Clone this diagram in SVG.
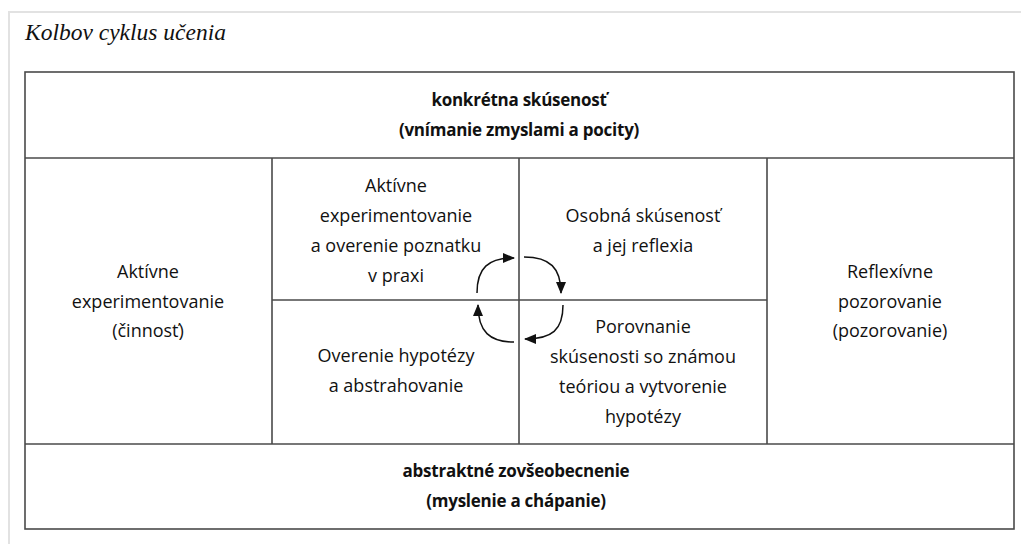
<svg xmlns="http://www.w3.org/2000/svg" width="1021" height="544" viewBox="0 0 1021 544">
<style>
.t{font-family:"Open Sans","Liberation Sans",sans-serif;font-size:18px;fill:#111;text-anchor:middle}
.b{font-weight:bold;font-size:17px;letter-spacing:-0.25px}
.ln{stroke:#4a4a4a;stroke-width:1.6;fill:none}
.ar{stroke:#111;stroke-width:1.5;fill:none;marker-end:url(#ah)}
</style>
<defs>
<marker id="ah" viewBox="0 0 12 10" refX="11" refY="5" markerWidth="12" markerHeight="10" markerUnits="userSpaceOnUse" orient="auto">
<path d="M0,0 L12,5 L0,10 Z" fill="#111"/>
</marker>
</defs>
<rect width="1021" height="544" fill="#fff"/>
<path d="M9,560 L9,12 L1030,12" fill="none" stroke="#e2e2e2" stroke-width="2"/>
<text x="25" y="40" font-family="Liberation Serif,serif" font-style="italic" font-size="23.5" fill="#111">Kolbov cyklus učenia</text>
<g id="table">
<rect x="25" y="72" width="989" height="457" class="ln"/>
<line x1="25" y1="158" x2="1014" y2="158" class="ln"/>
<line x1="25" y1="444" x2="1014" y2="444" class="ln"/>
<line x1="272" y1="158" x2="272" y2="444" class="ln"/>
<line x1="519" y1="158" x2="519" y2="444" class="ln"/>
<line x1="767" y1="158" x2="767" y2="444" class="ln"/>
<line x1="272" y1="300" x2="767" y2="300" class="ln"/>
</g>
<g id="top">
<text class="t b" x="519" y="106">konkrétna skúsenosť</text>
<text class="t b" x="519" y="136">(vnímanie zmyslami a pocity)</text>
</g>
<g id="left">
<text class="t" x="148" y="278">Aktívne</text>
<text class="t" x="148" y="308">experimentovanie</text>
<text class="t" x="148" y="337">(činnosť)</text>
</g>
<g id="right">
<text class="t" x="890" y="278">Reflexívne</text>
<text class="t" x="890" y="308">pozorovanie</text>
<text class="t" x="890" y="337">(pozorovanie)</text>
</g>
<g id="tl">
<text class="t" x="396" y="192">Aktívne</text>
<text class="t" x="396" y="222">experimentovanie</text>
<text class="t" x="396" y="252">a overenie poznatku</text>
<text class="t" x="396" y="282">v praxi</text>
</g>
<g id="tr">
<text class="t" x="643" y="222">Osobná skúsenosť</text>
<text class="t" x="643" y="252">a jej reflexia</text>
</g>
<g id="bl">
<text class="t" x="396" y="362">Overenie hypotézy</text>
<text class="t" x="396" y="392">a abstrahovanie</text>
</g>
<g id="br">
<text class="t" x="643" y="333">Porovnanie</text>
<text class="t" x="643" y="363">skúsenosti so známou</text>
<text class="t" x="643" y="393">teóriou a vytvorenie</text>
<text class="t" x="643" y="423">hypotézy</text>
</g>
<g id="bottom">
<text class="t b" x="516" y="477">abstraktné zovšeobecnenie</text>
<text class="t b" x="516" y="507">(myslenie a chápanie)</text>
</g>
<g id="connectors">
<path class="ar" d="M524,257 C550,257 561,268 561,293"/>
<path class="ar" d="M563,305 C563,330 552,339 525,339"/>
<path class="ar" d="M514,342 C490,342 478,332 478,305"/>
<path class="ar" d="M477,293 C477,268 488,258 514,258"/>
</g>
</svg>
